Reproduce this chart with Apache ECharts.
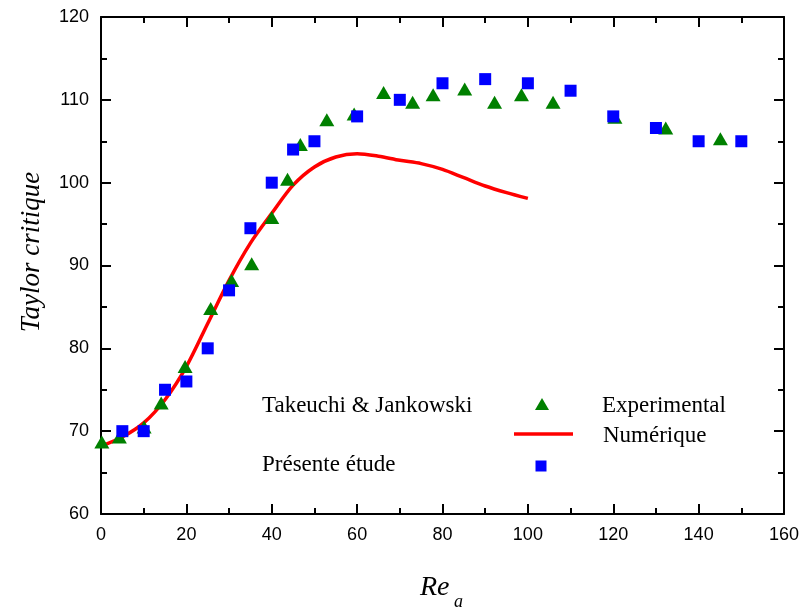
<!DOCTYPE html>
<html>
<head>
<meta charset="utf-8">
<script src="https://cdn.jsdelivr.net/npm/echarts@6/dist/echarts.min.js"></script>
<style>html,body{margin:0;padding:0;background:#fff;}#c{width:808px;height:612px;}</style>
</head>
<body>
<div id="c"></div>
<script>
// Experimental (Takeuchi & Jankowski)
const expX = [0.2,4.3,10.1,14.1,19.7,25.7,30.6,35.3,40.0,43.7,46.7,52.9,59.3,66.2,73.0,77.8,85.2,92.2,98.5,105.9,120.4,132.3,145.1];
const expY = [68.7,69.3,70.5,73.4,77.8,84.8,88.2,90.2,95.8,100.4,104.6,107.6,108.3,110.9,109.7,110.6,111.3,109.7,110.6,109.7,107.9,106.6,105.3];
// Numérique (Takeuchi & Jankowski)
const numX = [0,5,10,15,20,25,30,35,40,45,50,55,60,65,70,75,80,85,90,95,100];
const numY = [68.2,69.3,71.0,73.8,77.8,83.0,88.2,92.7,96.3,99.7,101.9,103.1,103.5,103.2,102.7,102.3,101.6,100.6,99.6,98.8,98.1];
// Présente étude
const presX = [5,10,15,20,25,30,35,40,45,50,60,70,80,90,100,110,120,130,140,150];
const presY = [70,70,75,76,80,87,94.5,100,104,105,108,110,112,112.5,112,111.1,108,106.6,105,105];
// Axis ticks
const xTicks = [0,20,40,60,80,100,120,140,160];
const yTicks = [60,70,80,90,100,110,120];

const chart = echarts.init(document.getElementById('c'), null, {renderer:'canvas'});
const zip = (a,b) => a.map((v,i)=>[v,b[i]]);
const serif = '"Liberation Serif","DejaVu Serif",serif';
const sans = '"Liberation Sans",Arial,sans-serif';

const axisCommon = {
  axisLine:{show:true,onZero:false,lineStyle:{color:'#000',width:2}},
  axisTick:{show:true,inside:true,length:10,lineStyle:{color:'#000',width:2}},
  minorTick:{show:true,splitNumber:2,length:6,lineStyle:{color:'#000',width:2}},
  splitLine:{show:false},
  minorSplitLine:{show:false}
};
const xMin = xTicks[0], xMax = xTicks[xTicks.length-1], xInt = xTicks[1]-xTicks[0];
const yMin = yTicks[0], yMax = yTicks[yTicks.length-1], yInt = yTicks[1]-yTicks[0];

chart.setOption({
  backgroundColor:'#fff',
  animation:false,
  grid:{left:101,right:24,top:17,bottom:98,containLabel:false},
  xAxis:[
    Object.assign({type:'value',position:'bottom',min:xMin,max:xMax,interval:xInt,
      axisLabel:{show:true,color:'#000',fontFamily:sans,fontSize:18,margin:12}},axisCommon),
    Object.assign({type:'value',position:'top',min:xMin,max:xMax,interval:xInt,
      axisLabel:{show:false}},axisCommon)
  ],
  yAxis:[
    Object.assign({type:'value',position:'left',min:yMin,max:yMax,interval:yInt,
      axisLabel:{show:true,color:'#000',fontFamily:sans,fontSize:18,margin:12}},axisCommon),
    Object.assign({type:'value',position:'right',min:yMin,max:yMax,interval:yInt,
      axisLabel:{show:false}},axisCommon)
  ],
  series:[
    {name:'Numérique',type:'line',data:zip(numX,numY),smooth:0.3,showSymbol:false,
      lineStyle:{color:'#ff0000',width:3.5},z:3},
    {name:'Experimental',type:'scatter',data:zip(expX,expY),symbol:'triangle',symbolSize:[15,13],
      itemStyle:{color:'#008000',opacity:1},z:4},
    {name:'Présente étude',type:'scatter',data:zip(presX,presY),symbol:'rect',symbolSize:12,
      itemStyle:{color:'#0000ff',opacity:1},z:5}
  ],
  graphic:[
    {type:'text',x:32,y:252,rotation:Math.PI/2,
      style:{text:'Taylor critique',font:'italic 27px '+serif,fill:'#000',align:'center',verticalAlign:'middle'}},
    {type:'text',x:420,y:588,
      style:{text:'Re',font:'italic 28px '+serif,fill:'#000',align:'left',verticalAlign:'middle'}},
    {type:'text',x:454,y:602,
      style:{text:'a',font:'italic 18px '+serif,fill:'#000',align:'left',verticalAlign:'middle'}},
    // legend
    {type:'text',x:262,y:406,
      style:{text:'Takeuchi & Jankowski',font:'23px '+serif,fill:'#000',align:'left',verticalAlign:'middle'}},
    {type:'text',x:602,y:406,
      style:{text:'Experimental',font:'23px '+serif,fill:'#000',align:'left',verticalAlign:'middle'}},
    {type:'text',x:603,y:436,
      style:{text:'Numérique',font:'23px '+serif,fill:'#000',align:'left',verticalAlign:'middle'}},
    {type:'text',x:262,y:465,
      style:{text:'Présente étude',font:'23px '+serif,fill:'#000',align:'left',verticalAlign:'middle'}},
    {type:'polygon',shape:{points:[[535,410],[549,410],[542,398]]},style:{fill:'#008000'}},
    {type:'line',shape:{x1:514,y1:434,x2:573,y2:434},style:{stroke:'#ff0000',lineWidth:3.5}},
    {type:'rect',shape:{x:535.5,y:460.5,width:11,height:11},style:{fill:'#0000ff'}}
  ]
});
</script>
</body>
</html>
